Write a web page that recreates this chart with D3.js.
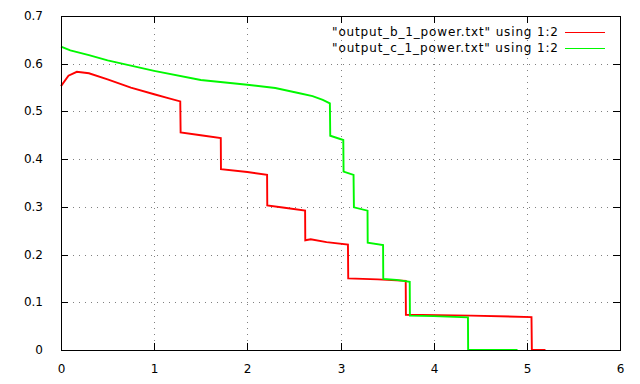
<!DOCTYPE html>
<html lang="en">
  <head>
    <meta charset="UTF-8" />
    <title>power</title>
    <style>
      body { margin: 0; background: #fff; }
      text { font-family: "DejaVu Sans", sans-serif; font-size: 12px; fill: #000; }
    </style>
  </head>
  <body>
    <svg id="svg" width="640" height="384"></svg>

    <script src="https://d3js.org/d3.v7.min.js"></script>
    <script>
      // values
      const xTicks = [0, 1, 2, 3, 4, 5, 6];
      const yTicks = [0, 0.1, 0.2, 0.3, 0.4, 0.5, 0.6, 0.7];

      const bX = [0, 0.08, 0.17, 0.3, 0.5, 0.75, 1.0, 1.15, 1.28, 1.284, 1.5, 1.715, 1.717, 2.0, 2.212, 2.214, 2.4, 2.62, 2.622, 2.68, 2.85, 3.08, 3.083, 3.4, 3.7, 3.702, 4.4, 5.05, 5.054, 5.2];
      const bY = [0.553, 0.575, 0.583, 0.58, 0.567, 0.55, 0.536, 0.528, 0.521, 0.456, 0.45, 0.444, 0.379, 0.373, 0.367, 0.303, 0.298, 0.292, 0.23, 0.232, 0.226, 0.221, 0.15, 0.148, 0.145, 0.074, 0.072, 0.069, 0, 0];

      const cX = [0, 0.1, 0.3, 0.5, 0.75, 1.0, 1.5, 2.0, 2.3, 2.56, 2.7, 2.81, 2.886, 2.89, 3.03, 3.033, 3.14, 3.144, 3.29, 3.292, 3.457, 3.459, 3.6, 3.743, 3.745, 4.0, 4.368, 4.37, 4.9];
      const cY = [0.636, 0.628, 0.618, 0.607, 0.596, 0.585, 0.566, 0.556, 0.549, 0.538, 0.532, 0.524, 0.517, 0.449, 0.44, 0.374, 0.367, 0.299, 0.292, 0.225, 0.22, 0.149, 0.147, 0.143, 0.072, 0.071, 0.0685, 0, 0];

      const series = [
        { name: '"output_b_1_power.txt" using 1:2', xs: bX, ys: bY, color: "#ff0000" },
        { name: '"output_c_1_power.txt" using 1:2', xs: cX, ys: cY, color: "#00f800" },
      ];

      const mLeft = 61, mRight = 620, mTop = 16, mBottom = 350;
      const svg = d3.select("#svg");

      const x = d3.scaleLinear().domain([0, 6]).range([mLeft, mRight]);
      const y = d3.scaleLinear().domain([0, 0.7]).range([mBottom, mTop]);
      // rounded copies so ticks and grid land on whole pixels
      const xr = x.copy().rangeRound([mLeft, mRight]);
      const yr = y.copy().rangeRound([mBottom, mTop]);

      // dotted grid
      const grid = svg.append("g");
      grid.selectAll("line.gx").data(xTicks.slice(1, -1)).enter().append("line")
        .attr("class", "gx")
        .attr("x1", (d) => xr(d) + 0.5).attr("x2", (d) => xr(d) + 0.5)
        .attr("y1", mTop).attr("y2", mBottom);
      grid.selectAll("line.gy").data(yTicks.slice(1, -1)).enter().append("line")
        .attr("class", "gy")
        .attr("y1", (d) => yr(d) + 0.5).attr("y2", (d) => yr(d) + 0.5)
        .attr("x1", mLeft).attr("x2", mRight);
      grid.selectAll("line")
        .style("stroke", "#808080").style("stroke-width", "1px").style("stroke-dasharray", "1,5");

      // data lines
      const line = d3.line().x((d) => x(d[0])).y((d) => y(d[1]));
      series.forEach((s) => {
        svg.append("path")
          .datum(s.xs.map((v, i) => [v, s.ys[i]]))
          .attr("fill", "none")
          .attr("stroke", s.color)
          .attr("stroke-width", 1.9)
          .attr("d", line);
      });

      // axes with inward ticks, mirrored on top and right
      const tk = 7;
      svg.append("g").attr("transform", `translate(0,${mBottom})`)
        .call(d3.axisBottom(xr).tickValues(xTicks).tickSize(-tk).tickPadding(tk + 7).tickFormat(d3.format("d")));
      svg.append("g").attr("transform", `translate(0,${mTop})`)
        .call(d3.axisTop(xr).tickValues(xTicks).tickSize(-tk).tickFormat(""));
      svg.append("g").attr("transform", `translate(${mLeft},0)`)
        .call(d3.axisLeft(yr).tickValues(yTicks).tickSize(-tk).tickPadding(tk + 11).tickFormat((d) => (d === 0 ? "0" : d3.format(".1f")(d))));
      svg.append("g").attr("transform", `translate(${mRight},0)`)
        .call(d3.axisRight(yr).tickValues(yTicks).tickSize(-tk).tickFormat(""));
      svg.selectAll(".domain").remove();
      svg.selectAll(".tick line").style("stroke", "#000").style("stroke-width", "1px");
      svg.selectAll(".tick text").style("font-size", "12px").style("font-family", "DejaVu Sans, sans-serif");

      svg.append("rect")
        .attr("x", mLeft + 0.5).attr("y", mTop + 0.5)
        .attr("width", mRight - mLeft).attr("height", mBottom - mTop)
        .attr("fill", "none").attr("stroke", "#000").attr("stroke-width", 1);

      // legend
      const lg = svg.append("g");
      series.forEach((s, i) => {
        const ly = 32 + i * 16;
        lg.append("text").attr("x", 558).attr("y", ly).attr("dy", "0.35em")
          .attr("text-anchor", "end")
          .attr("textLength", 226).attr("lengthAdjust", "spacing")
          .text(s.name);
        lg.append("line").attr("x1", 565).attr("x2", 605)
          .attr("y1", ly + 0.5).attr("y2", ly + 0.5)
          .attr("stroke", s.color).attr("stroke-width", 1);
      });
    </script>
  </body>
</html>
